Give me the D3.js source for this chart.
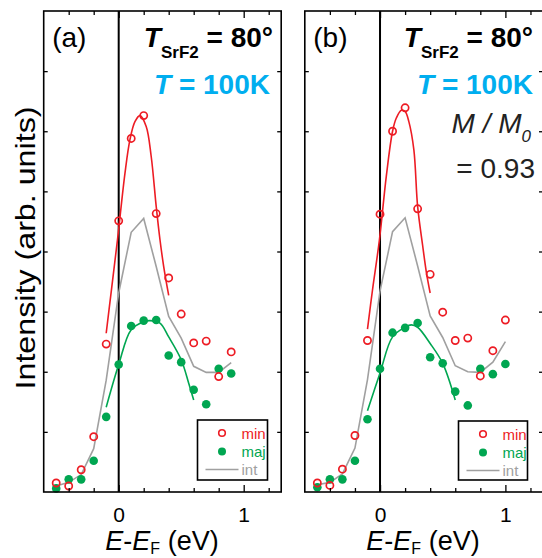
<!DOCTYPE html>
<html>
<head>
<meta charset="utf-8">
<script src="https://cdn.jsdelivr.net/npm/d3@7"></script>
<style>
  body { margin: 0; background: #fff; }
  text { font-family: "Liberation Sans", Arial, sans-serif; }
</style>
</head>
<body>
<svg id="chart" width="542" height="558"></svg>
<script>
// energies (eV)
const energyA = [-0.5, -0.4, -0.3, -0.2, -0.1, 0.0, 0.1, 0.2, 0.3, 0.4, 0.5, 0.6, 0.7, 0.8, 0.9];
const energyB = [-0.5, -0.4, -0.3, -0.2, -0.1, 0.0, 0.1, 0.2, 0.3, 0.4, 0.5, 0.6, 0.7, 0.8, 0.9, 1.0];

// panel (a)
const minA = [0.15, 0.10, 0.37, 0.92, 2.46, 4.51, 5.88, 6.26, 4.63, 3.56, 2.96, 2.48, 2.51, 1.92, 2.33];
const majA = [0.06, 0.21, 0.21, 0.52, 1.25, 2.12, 2.76, 2.85, 2.86, 2.27, 2.16, 1.70, 1.46, 2.05, 1.97];
const intA = [0.10, 0.16, 0.29, 0.72, 1.86, 3.31, 4.32, 4.55, 3.75, 2.92, 2.56, 2.09, 1.99, 1.99, 2.15];
const minFitXA = [-0.10, -0.06, -0.01, 0.05, 0.09, 0.13, 0.17, 0.22, 0.26, 0.30, 0.33, 0.36, 0.40];
const minFitYA = [2.64, 3.33, 4.19, 5.30, 5.86, 6.16, 6.26, 6.08, 5.58, 4.75, 4.20, 3.75, 3.27];
const majFitXA = [-0.10, 0.0, 0.10, 0.20, 0.25, 0.33, 0.40, 0.50, 0.56, 0.60];
const majFitYA = [1.41, 2.12, 2.70, 2.83, 2.85, 2.81, 2.58, 2.20, 1.81, 1.53];

// panel (b)
const minB = [0.15, 0.11, 0.38, 0.94, 2.52, 4.62, 6.00, 6.39, 4.71, 3.62, 2.99, 2.52, 2.56, 1.93, 2.35, 2.86];
const majB = [0.08, 0.21, 0.21, 0.52, 1.21, 2.05, 2.65, 2.73, 2.81, 2.24, 2.14, 1.67, 1.44, 2.05, 1.96, 2.13];
const intB = [0.12, 0.16, 0.30, 0.73, 1.87, 3.34, 4.33, 4.56, 3.76, 2.93, 2.57, 2.10, 2.00, 1.99, 2.16, 2.50];
const minFitXB = [-0.10, -0.06, -0.005, 0.05, 0.10, 0.13, 0.17, 0.20, 0.23, 0.27, 0.30, 0.34, 0.37, 0.40];
const minFitYB = [2.71, 3.36, 4.19, 5.25, 6.00, 6.22, 6.35, 6.33, 6.16, 5.69, 4.75, 4.10, 3.65, 3.31];
const majFitXB = [-0.10, 0.0, 0.10, 0.20, 0.25, 0.30, 0.40, 0.50, 0.60];
const majFitYB = [1.35, 1.98, 2.58, 2.74, 2.78, 2.74, 2.47, 2.14, 1.53];

const xTicksMinor = [-0.4, -0.2, 0.2, 0.4, 0.6, 0.8, 1.2];
const xTicksMajor = [0, 1];
const yTicks = [1, 2, 3, 4, 5, 6, 7];

const red = "#ed1c24", green = "#00a651", grey = "#a0a0a0", cyan = "#00aeef";

const svg = d3.select("#chart");
const plotTop = 11, plotBottom = 492;

const y = d3.scaleLinear().domain([0, 8]).range([plotBottom, plotTop]);

const panels = [
    { label: "(a)", left: 43.7, right: 281.2, energy: energyA, min: minA, maj: majA, int: intA,
      fitMin: [minFitXA, minFitYA], fitMaj: [majFitXA, majFitYA],
      textRight: 273, legend: { x: 197.5, y: 420, w: 70, h: 60 }, xLabel: 162, ratio: false },
    { label: "(b)", left: 304.8, right: 543, energy: energyB, min: minB, maj: majB, int: intB,
      fitMin: [minFitXB, minFitYB], fitMaj: [majFitXB, majFitYB],
      textRight: 533, legend: { x: 458.5, y: 421, w: 69, h: 59 }, xLabel: 423, ratio: true }
];

panels.forEach(p => {
    const x = d3.scaleLinear().domain([-0.6, 1.3]).range([p.left, p.right]);
    const g = svg.append("g");

    // zero line
    g.append("line")
        .attr("x1", x(0)).attr("x2", x(0))
        .attr("y1", plotTop).attr("y2", plotBottom)
        .attr("stroke", "#000").attr("stroke-width", 2);

    const line = d3.line().x(d => x(d[0])).y(d => y(d[1]));

    g.append("path")
        .datum(p.energy.map((e, i) => [e, p.int[i]]))
        .attr("d", line)
        .attr("fill", "none").attr("stroke", grey).attr("stroke-width", 1.6);

    const smooth = d3.line().x(d => x(d[0])).y(d => y(d[1])).curve(d3.curveCatmullRom);

    g.append("path")
        .datum(p.fitMin[0].map((e, i) => [e, p.fitMin[1][i]]))
        .attr("d", smooth)
        .attr("fill", "none").attr("stroke", red).attr("stroke-width", 1.6);

    g.append("path")
        .datum(p.fitMaj[0].map((e, i) => [e, p.fitMaj[1][i]]))
        .attr("d", smooth)
        .attr("fill", "none").attr("stroke", green).attr("stroke-width", 1.6);

    g.selectAll(".maj")
        .data(p.energy.map((e, i) => [e, p.maj[i]]))
        .join("circle")
        .attr("class", "maj")
        .attr("cx", d => x(d[0])).attr("cy", d => y(d[1]))
        .attr("r", 4.3).attr("fill", green);

    g.selectAll(".min")
        .data(p.energy.map((e, i) => [e, p.min[i]]))
        .join("circle")
        .attr("class", "min")
        .attr("cx", d => x(d[0])).attr("cy", d => y(d[1]))
        .attr("r", 3.6).attr("fill", "none")
        .attr("stroke", red).attr("stroke-width", 1.7);

    // frame + inward ticks
    g.append("rect")
        .attr("x", p.left).attr("y", plotTop)
        .attr("width", p.right - p.left).attr("height", plotBottom - plotTop)
        .attr("fill", "none").attr("stroke", "#000").attr("stroke-width", 1.6);

    const axisStyle = sel => sel.call(s => s.select(".domain").remove())
        .selectAll("line").attr("stroke", "#000").attr("stroke-width", 1.3);

    g.append("g").attr("transform", `translate(0,${plotBottom})`)
        .call(d3.axisBottom(x).tickValues(xTicksMinor).tickSize(-4).tickFormat(""))
        .call(axisStyle);
    g.append("g").attr("transform", `translate(0,${plotTop})`)
        .call(d3.axisTop(x).tickValues(xTicksMinor).tickSize(-4).tickFormat(""))
        .call(axisStyle);
    g.append("g").attr("transform", `translate(0,${plotTop})`)
        .call(d3.axisTop(x).tickValues(xTicksMajor).tickSize(-7).tickFormat(""))
        .call(axisStyle);

    const major = g.append("g").attr("transform", `translate(0,${plotBottom})`)
        .call(d3.axisBottom(x).tickValues(xTicksMajor).tickSize(-7).tickPadding(15).tickFormat(d3.format("d")));
    major.call(axisStyle);
    major.selectAll("text").attr("font-size", 21).attr("fill", "#000")
        .attr("font-family", "Liberation Sans, Arial, sans-serif");

    g.append("g").attr("transform", `translate(${p.left},0)`)
        .call(d3.axisLeft(y).tickValues(yTicks).tickSize(-4).tickFormat(""))
        .call(axisStyle);
    g.append("g").attr("transform", `translate(${p.right},0)`)
        .call(d3.axisRight(y).tickValues(yTicks).tickSize(-4).tickFormat(""))
        .call(axisStyle);

    // legend
    const L = p.legend;
    const lg = g.append("g").attr("transform", `translate(${L.x},${L.y})`);
    lg.append("rect").attr("width", L.w).attr("height", L.h)
        .attr("fill", "#fff").attr("stroke", "#000").attr("stroke-width", 1.6);
    lg.append("circle").attr("cx", 24.5).attr("cy", 13).attr("r", 3.3)
        .attr("fill", "none").attr("stroke", red).attr("stroke-width", 1.6);
    lg.append("circle").attr("cx", 24.5).attr("cy", 31.5).attr("r", 4)
        .attr("fill", green);
    lg.append("line").attr("x1", 8).attr("x2", 41).attr("y1", 49.5).attr("y2", 49.5)
        .attr("stroke", grey).attr("stroke-width", 1.6);
    [["min", red, 18.5], ["maj", green, 37], ["int", grey, 55]].forEach(([t, c, yy]) => {
        lg.append("text").attr("x", 44).attr("y", yy)
            .attr("font-size", 15).attr("fill", c).text(t);
    });

    // annotations
    g.append("text").attr("x", p.left + 8.5).attr("y", 47)
        .attr("font-size", 28).text(p.label);

    const t1 = g.append("text").attr("x", p.textRight).attr("y", 47)
        .attr("text-anchor", "end").attr("font-size", 28).attr("font-weight", "bold");
    t1.append("tspan").attr("font-style", "italic").text("T");
    t1.append("tspan").attr("font-size", 17).attr("dy", 11).text("SrF2");
    t1.append("tspan").attr("dy", -11).text(" = 80°");

    const t2 = g.append("text").attr("x", p.textRight - (p.ratio ? 0 : 3)).attr("y", 94)
        .attr("text-anchor", "end").attr("font-size", 28).attr("font-weight", "bold")
        .attr("fill", cyan);
    t2.append("tspan").attr("font-style", "italic").text("T");
    t2.append("tspan").text(" = 100K");

    if (p.ratio) {
        const t3 = g.append("text").attr("x", 531).attr("y", 133)
            .attr("text-anchor", "end").attr("font-size", 28).attr("fill", "#222")
            .attr("font-style", "italic");
        t3.append("tspan").text("M / M");
        t3.append("tspan").attr("font-size", 17).attr("dy", 9).text("0");
        g.append("text").attr("x", 535).attr("y", 178)
            .attr("text-anchor", "end").attr("font-size", 28).attr("fill", "#222")
            .text("= 0.93");
    }

    const xl = g.append("text").attr("x", p.xLabel).attr("y", 550)
        .attr("text-anchor", "middle").attr("font-size", 27);
    xl.append("tspan").attr("font-style", "italic").text("E");
    xl.append("tspan").text("-");
    xl.append("tspan").attr("font-style", "italic").text("E");
    xl.append("tspan").attr("font-size", 16).attr("dy", 4).text("F");
    xl.append("tspan").attr("dy", -4).text(" (eV)");
});

svg.append("text")
    .attr("transform", "translate(34.5,248) rotate(-90)")
    .attr("text-anchor", "middle").attr("font-size", 28)
    .attr("textLength", 283).attr("lengthAdjust", "spacingAndGlyphs")
    .text("Intensity (arb. units)");
</script>
</body>
</html>
